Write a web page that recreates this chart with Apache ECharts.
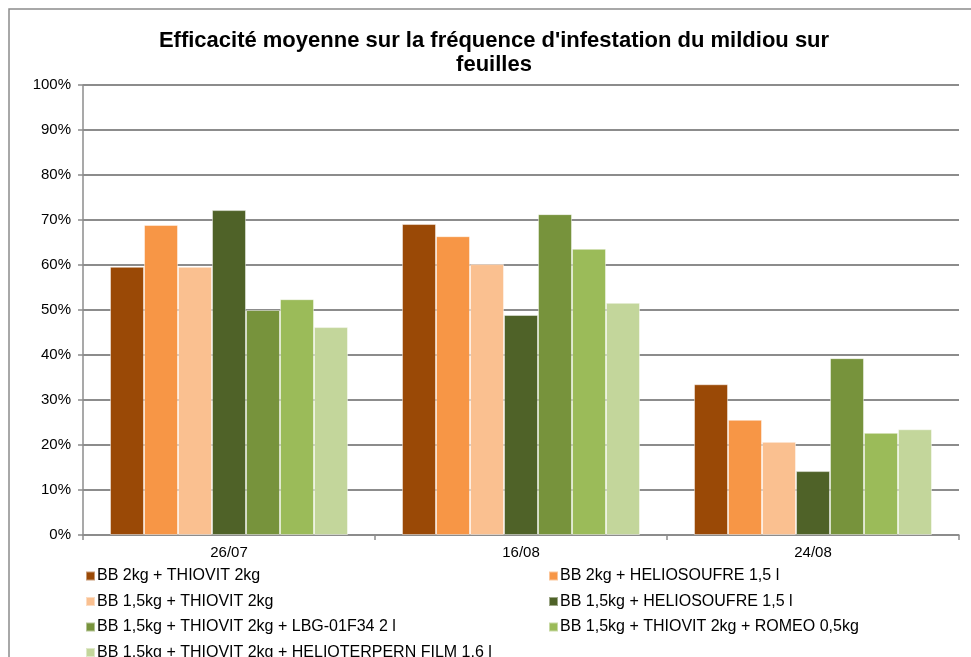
<!DOCTYPE html>
<html>
<head>
<meta charset="utf-8">
<script src="https://cdn.jsdelivr.net/npm/echarts@6/dist/echarts.min.js"></script>
<style>
  html, body { margin: 0; padding: 0; background: #fff; }
  #chart { width: 971px; height: 657px; }
</style>
</head>
<body>
<div id="chart"></div>
<script>
// dates de notation
const dates = ['26/07', '16/08', '24/08'];

// modalités testées
const names = [
    'BB 2kg + THIOVIT 2kg',
    'BB 2kg + HELIOSOUFRE 1,5 l',
    'BB 1,5kg + THIOVIT 2kg',
    'BB 1,5kg + HELIOSOUFRE 1,5 l',
    'BB 1,5kg + THIOVIT 2kg + LBG-01F34 2 l',
    'BB 1,5kg + THIOVIT 2kg + ROMEO 0,5kg',
    'BB 1,5kg + THIOVIT 2kg + HELIOTERPERN FILM 1,6 l'
];

// efficacité (%) par modalité, dans l'ordre des dates
const bbThiovit = [59.6, 69.1, 33.5];
const bbHeliosoufre = [68.9, 66.4, 25.6];
const bb15Thiovit = [59.6, 60.2, 20.7];
const bb15Heliosoufre = [72.2, 48.9, 14.2];
const bb15Lbg = [50.0, 71.3, 39.3];
const bb15Romeo = [52.4, 63.6, 22.7];
const bb15Helioterpern = [46.2, 51.6, 23.5];

const yTicks = [0, 10, 20, 30, 40, 50, 60, 70, 80, 90, 100];

const colors = ['#9A4906', '#F79646', '#FAC090', '#4F6228', '#77933C', '#9BBB59', '#C3D69B'];
const values = [bbThiovit, bbHeliosoufre, bb15Thiovit, bb15Heliosoufre, bb15Lbg, bb15Romeo, bb15Helioterpern];

const font = 'Liberation Sans, Arial, sans-serif';

let myChart = echarts.init(document.getElementById('chart'));

let series = names.map((n, i) => ({
    name: n,
    type: 'bar',
    data: values[i],
    barGap: 0,
    barCategoryGap: '18.5%',
    itemStyle: {
        color: colors[i],
        borderColor: 'rgba(255,255,255,0.45)',
        borderWidth: 1
    }
}));

let legendBase = {
    orient: 'vertical',
    icon: 'rect',
    itemWidth: 9,
    itemHeight: 9,
    itemGap: 9.5,
    padding: 0,
    height: 200,
    textStyle: { fontFamily: font, fontSize: 16, color: '#000', padding: [0, 0, 0, -3] }
};

myChart.setOption({
    animation: false,
    color: colors,
    title: {
        text: "Efficacité moyenne sur la fréquence d'infestation du mildiou sur\nfeuilles",
        left: 494,
        top: 29,
        textAlign: 'center',
        padding: 0,
        textStyle: {
            fontFamily: font,
            fontSize: 22,
            fontWeight: 'bold',
            color: '#000',
            lineHeight: 24
        }
    },
    graphic: [{
        type: 'rect',
        shape: { x: 9, y: 9, width: 1000, height: 700 },
        style: { fill: 'none', stroke: '#8c8c8c', lineWidth: 1.5 },
        silent: true
    }],
    legend: [
        Object.assign({}, legendBase, {
            left: 85,
            top: 568,
            data: [names[0], names[2], names[4], names[6]]
        }),
        Object.assign({}, legendBase, {
            left: 548,
            top: 568,
            data: [names[1], names[3], names[5]]
        })
    ],
    grid: {
        left: 83,
        right: 12,
        top: 85,
        bottom: 122
    },
    xAxis: {
        type: 'category',
        data: dates,
        axisLine: { lineStyle: { color: '#8c8c8c', width: 1.5 } },
        axisTick: { show: true, length: 5, lineStyle: { color: '#8c8c8c', width: 1.5 } },
        axisLabel: { fontFamily: font, fontSize: 15, color: '#000', margin: 10 }
    },
    yAxis: {
        type: 'value',
        min: yTicks[0],
        max: yTicks[yTicks.length - 1],
        interval: 10,
        axisLine: { show: true, lineStyle: { color: '#8c8c8c', width: 1.5 } },
        axisTick: { show: true, length: 5, lineStyle: { color: '#8c8c8c', width: 1.5 } },
        axisLabel: {
            fontFamily: font,
            fontSize: 15,
            color: '#000',
            margin: 12,
            formatter: '{value}%'
        },
        splitLine: { lineStyle: { color: '#8c8c8c', width: 2 } }
    },
    series: series
});
</script>
</body>
</html>
